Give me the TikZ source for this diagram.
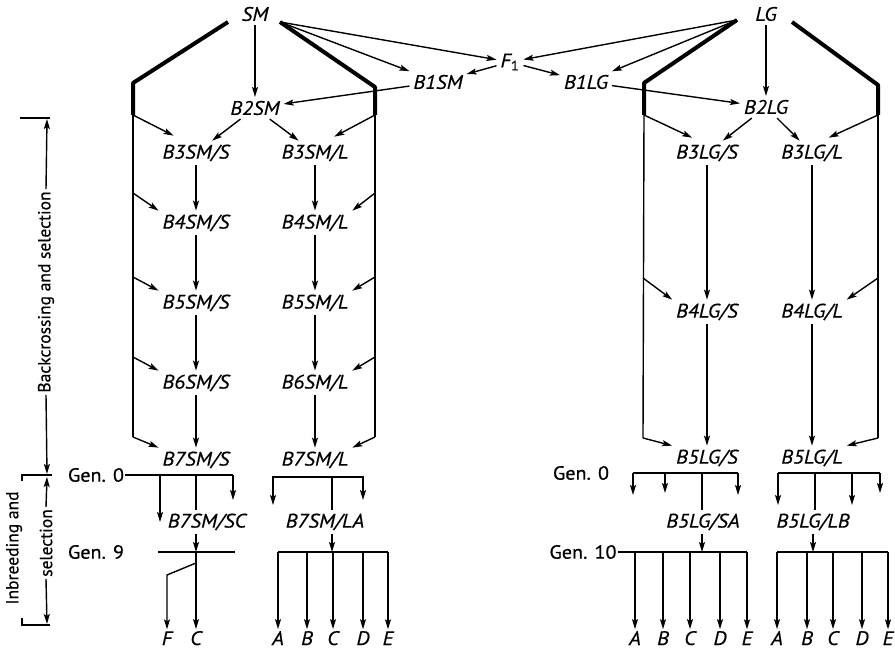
\documentclass[tikz,border=0pt]{standalone}
\usepackage{fontspec}
\setmainfont{PT Sans}
\newfontfamily\labfont[FakeStretch=1.08, FakeBold=0.4]{PT Sans}
\newfontfamily\genfont[FakeStretch=1.06, FakeBold=0.8]{PT Sans}
\newfontfamily\axfont[FakeBold=0.6]{PT Sans}
\usetikzlibrary{arrows.meta}
\begin{document}
\begin{tikzpicture}[x=1pt,y=-1pt,
  lab/.style={font=\labfont\fontsize{19.5}{19.5}\selectfont\itshape, inner sep=2pt, outer sep=2pt},
  leaf/.style={font=\labfont\fontsize{19.5}{19.5}\selectfont\itshape, inner sep=1pt, outer sep=1pt, anchor=base, text depth=0pt},
  gen/.style={font=\genfont\fontsize{19}{19}\selectfont, inner sep=1pt},
  ax/.style={font=\axfont\fontsize{17.5}{17.5}\selectfont, rotate=90, inner sep=2pt},
  ln/.style={line width=1.4pt},
  thk/.style={line width=4pt, line join=round},
  arr/.style={ln, -{Stealth[length=10pt,width=6pt,inset=2pt]}},
]
\useasboundingbox (0,0) rectangle (895,650);

% ---------- nodes ----------
\node[lab] (SM) at (255,14) {SM};
\node[lab] (LG) at (766,14) {LG};
\node[lab] (F1) at (510,62) {F\textsubscript{\upshape 1}};
\node[lab] (B1SM) at (438,82) {B1SM};
\node[lab] (B1LG) at (586,82) {B1LG};
\node[lab] (B2SM) at (255,108) {B2SM};
\node[lab] (B2LG) at (766,107) {B2LG};

\node[lab] (B3SS) at (196,153) {B3SM/S};
\node[lab] (B3SL) at (315,153) {B3SM/L};
\node[lab] (B4SS) at (196,223) {B4SM/S};
\node[lab] (B4SL) at (315,223) {B4SM/L};
\node[lab] (B5SS) at (196,303) {B5SM/S};
\node[lab] (B5SL) at (315,303) {B5SM/L};
\node[lab] (B6SS) at (196,383) {B6SM/S};
\node[lab] (B6SL) at (315,383) {B6SM/L};
\node[lab] (B7SS) at (196,460) {B7SM/S};
\node[lab] (B7SL) at (315,460) {B7SM/L};

\node[lab] (B3LS) at (707,153) {B3LG/S};
\node[lab] (B3LL) at (812,153) {B3LG/L};
\node[lab] (B4LS) at (707,312) {B4LG/S};
\node[lab] (B4LL) at (812,312) {B4LG/L};
\node[lab] (B5LS) at (707,458) {B5LG/S};
\node[lab] (B5LL) at (812,458) {B5LG/L};

\node[lab] (SC) at (207,522) {B7SM/SC};
\node[lab] (LA) at (325,522) {B7SM/LA};
\node[lab] (SA) at (703,522) {B5LG/SA};
\node[lab] (LB) at (813,522) {B5LG/LB};

\node[gen] (g0a) at (96,475) {Gen. 0};
\node[gen] (g9)  at (96,552) {Gen. 9};
\node[gen] (g0b) at (581,473) {Gen. 0};
\node[gen] (g10) at (583,552) {Gen. 10};

% leaves
\node[leaf] (lF)  at (167,645) {F};
\node[leaf] (lC)  at (196,645) {C};
\node[leaf] (aA)  at (278,645) {A};
\node[leaf] (aB)  at (307,645) {B};
\node[leaf] (aC)  at (333,645) {C};
\node[leaf] (aD)  at (363,645) {D};
\node[leaf] (aE)  at (388,645) {E};
\node[leaf] (bA)  at (635,645) {A};
\node[leaf] (bB)  at (663,645) {B};
\node[leaf] (bC)  at (690,645) {C};
\node[leaf] (bD)  at (720,645) {D};
\node[leaf] (bE)  at (747,645) {E};
\node[leaf] (cA)  at (777,645) {A};
\node[leaf] (cB)  at (807,645) {B};
\node[leaf] (cC)  at (833,645) {C};
\node[leaf] (cD)  at (862,645) {D};
\node[leaf] (cE)  at (888,645) {E};

% ---------- coordinates ----------
\coordinate (SMl) at (228,22);
\coordinate (SMr) at (280,22);
\coordinate (LGl) at (737,20);
\coordinate (LGr) at (792,22);
\coordinate (fL1) at (133,83);  \coordinate (fL2) at (133,115);
\coordinate (fL3) at (133,193); \coordinate (fL4) at (133,277);
\coordinate (fL5) at (133,357); \coordinate (fL6) at (133,437);
\coordinate (fR1) at (375,87);  \coordinate (fR2) at (375,115);
\coordinate (fR3) at (375,193); \coordinate (fR4) at (375,277);
\coordinate (fR5) at (375,357); \coordinate (fR6) at (375,437);
\coordinate (gL1) at (644,83);  \coordinate (gL2) at (644,115);
\coordinate (gL3) at (643,278); \coordinate (gL4) at (643,438);
\coordinate (gR1) at (878,85);  \coordinate (gR2) at (878,115);
\coordinate (gR3) at (878,278); \coordinate (gR4) at (878,438);

% ---------- top crosses ----------
\draw[arr] (SMr) -- (F1);
\draw[arr] (SMr) -- (B1SM);
\draw[arr] (LGl) -- (F1);
\draw[arr] (LGl) -- (B1LG);
\draw[arr] (F1) -- (B1SM);
\draw[arr] (F1) -- (B1LG);
\draw[arr] (B1SM) -- (B2SM);
\draw[arr] (B1LG) -- (B2LG);
\draw[arr] (SM) -- (B2SM);
\draw[arr] (LG) -- (B2LG);
\draw[arr] (B2SM) -- (B3SS);
\draw[arr] (B2SM) -- (B3SL);
\draw[arr] (B2LG) -- (B3LS);
\draw[arr] (B2LG) -- (B3LL);

% ---------- frames ----------
\draw[thk] (SMl) -- (fL1) -- (fL2);
\draw[thk] (SMr) -- (fR1) -- (fR2);
\draw[thk] (LGl) -- (gL1) -- (gL2);
\draw[thk] (LGr) -- (gR1) -- (gR2);
\draw[ln] (fL2) -- (fL6);
\draw[ln] (fR2) -- (fR6);
\draw[ln] (gL2) -- (gL4);
\draw[ln] (gR2) -- (gR4);

\draw[arr] (fL2) -- ([shift={(15,-5)}]B3SS.north west);
\draw[arr] (fL3) -- (B4SS.north west);
\draw[arr] (fL4) -- (B5SS.north west);
\draw[arr] (fL5) -- (B6SS.north west);
\draw[arr] (fL6) -- (B7SS.north west);
\draw[arr] (fR2) -- ([shift={(-18,-4)}]B3SL.north east);
\draw[arr] (fR3) -- (B4SL.north east);
\draw[arr] (fR4) -- (B5SL.north east);
\draw[arr] (fR5) -- (B6SL.north east);
\draw[arr] (fR6) -- (B7SL.north east);
\draw[arr] (gL2) -- ([shift={(20,-3)}]B3LS.north west);
\draw[arr] (gL3) -- (B4LS.north west);
\draw[arr] (gL4) -- (B5LS.north west);
\draw[arr] (gR2) -- ([shift={(-18,-3)}]B3LL.north east);
\draw[arr] (gR3) -- (B4LL.north east);
\draw[arr] (gR4) -- (B5LL.north east);

% ---------- chains ----------
\draw[arr] (B3SS) -- (B4SS);
\draw[arr] (B4SS) -- (B5SS);
\draw[arr] (B5SS) -- (B6SS);
\draw[arr] (B6SS) -- (B7SS);
\draw[arr] (B3SL) -- (B4SL);
\draw[arr] (B4SL) -- (B5SL);
\draw[arr] (B5SL) -- (B6SL);
\draw[arr] (B6SL) -- (B7SL);
\draw[arr] (B3LS) -- (B4LS);
\draw[arr] (B4LS) -- (B5LS);
\draw[arr] (B3LL) -- (B4LL);
\draw[arr] (B4LL) -- (B5LL);

% ---------- inbreeding: SM/S ----------
\coordinate (sc1) at (160,475); \coordinate (sc2) at (196,475); \coordinate (sc3) at (233,475);
\coordinate (sc1e) at (160,522); \coordinate (sc3e) at (233,500);
\draw[ln] (g0a.east) -- (sc3);
\draw[arr] (sc1) -- (sc1e);
\draw[arr] (sc3) -- (sc3e);
\draw[ln] (sc2) -- (sc2 |- SC.north);
\coordinate (n9) at (196,552);
\coordinate (g9a) at (158,552); \coordinate (g9b) at (235,552);
\draw[ln] (g9a) -- (g9b);
\draw[arr] (SC.south -| n9) -- (n9);
\draw[arr] (n9) -- (lC);
\coordinate (fb1) at (196,563); \coordinate (fb2) at (167,575);
\draw[arr] (fb1) -- (fb2) -- (lF);

% ---------- inbreeding: SM/L ----------
\coordinate (la0) at (273,477); \coordinate (la1) at (332,477); \coordinate (la2) at (363,477);
\coordinate (la0e) at (273,505); \coordinate (la2e) at (363,500);
\draw[arr] (la1) -- (la0) -- (la0e);
\draw[arr] (la1) -- (la2) -- (la2e);
\draw[ln] (la1) -- (la1 |- LA.north);
\coordinate (lh) at (332,552);
\draw[arr] (LA.south -| lh) -- (lh);
\draw[ln] (aA.north |- lh) -- (aE.north |- lh);
\foreach \n in {aA,aB,aC,aD,aE} \draw[arr] (\n.north |- lh) -- (\n);

% ---------- inbreeding: LG/S ----------
\coordinate (sa1) at (633,473); \coordinate (sa2) at (665,473);
\coordinate (sa3) at (702,473); \coordinate (sa4) at (738,473);
\coordinate (sa1e) at (633,495); \coordinate (sa2e) at (665,493); \coordinate (sa4e) at (738,495);
\draw[ln] (sa1) -- (sa4);
\draw[arr] (sa1) -- (sa1e);
\draw[arr] (sa2) -- (sa2e);
\draw[arr] (sa4) -- (sa4e);
\draw[ln] (sa3) -- (sa3 |- SA.north);
\coordinate (sh) at (702,552);
\draw[arr] (SA.south -| sh) -- (sh);
\draw[ln] (g10.east) -- (bE.north |- sh);
\foreach \n in {bA,bB,bC,bD,bE} \draw[arr] (\n.north |- sh) -- (\n);

% ---------- inbreeding: LG/L ----------
\coordinate (lb1) at (778,473); \coordinate (lb2) at (815,473);
\coordinate (lb3) at (852,473); \coordinate (lb4) at (880,473);
\coordinate (lb1e) at (778,505); \coordinate (lb3e) at (852,505); \coordinate (lb4e) at (880,493);
\draw[ln] (lb1) -- (lb4);
\draw[arr] (lb1) -- (lb1e);
\draw[arr] (lb3) -- (lb3e);
\draw[arr] (lb4) -- (lb4e);
\draw[ln] (lb2) -- (lb2 |- LB.north);
\coordinate (bh) at (813,552);
\draw[arr] (LB.south -| bh) -- (bh);
\draw[ln] (cA.north |- bh) -- (cE.north |- bh);
\foreach \n in {cA,cB,cC,cD,cE} \draw[arr] (\n.north |- bh) -- (\n);

% ---------- axis ----------
\coordinate (t1a) at (20,118); \coordinate (t1b) at (50,118);
\coordinate (t2a) at (22,475); \coordinate (t2b) at (52,475); \coordinate (t2c) at (22,481);
\coordinate (t3a) at (22,625); \coordinate (t3b) at (50,625); \coordinate (t3c) at (22,618);
\coordinate (ax1) at (47,119); \coordinate (ax2) at (47,474);
\coordinate (ax3) at (47,477); \coordinate (ax4) at (47,624);
\draw[ln] (t1a) -- (t1b);
\draw[ln] (t2c) -- (t2a) -- (t2b);
\draw[ln] (t3c) -- (t3a) -- (t3b);
\node[ax] (bk) at (46,292) {Backcrossing and selection};
\node[ax] (sel) at (46,543) {selection};
\node[ax] (inb) at (14,548) {Inbreeding and};
\draw[arr] (bk.east) -- (ax1);
\draw[arr] (bk.west) -- (ax2);
\draw[arr] (sel.east) -- (ax3);
\draw[arr] (sel.west) -- (ax4);
\end{tikzpicture}
\end{document}
